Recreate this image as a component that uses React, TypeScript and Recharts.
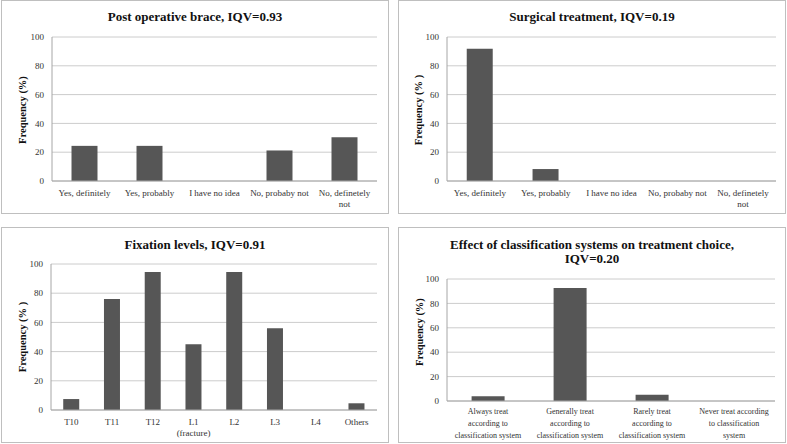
import React from 'react';
import { BarChart, Bar, XAxis, YAxis, CartesianGrid } from 'recharts';

const answerCategories = ['Yes, definitely', 'Yes, probably', 'I have no idea', 'No, probaby not', 'No, definetely\nnot'];
const braceValues = [24.4, 24.4, 0, 21.2, 30.4];
const surgicalValues = [91.9, 8.3, 0, 0, 0];

const fixationCategories = ['T10', 'T11', 'T12', 'L1\n(fracture)', 'L2', 'L3', 'L4', 'Others'];
const fixationValues = [7.5, 76, 94.5, 45, 94.5, 56, 0, 4.6];

const classificationCategories = [
  'Always treat\naccording to\nclassification system',
  'Generally treat\naccording to\nclassification system',
  'Rarely treat\naccording to\nclassification system',
  'Never treat according\nto classification\nsystem',
];
const classificationValues = [3.8, 92.6, 5.2, 0];

const yTicks = [0, 20, 40, 60, 80, 100];

const FONT = '"Liberation Serif", "Times New Roman", serif';
const BAR = '#565656';

type Box = { x: number; y: number; w: number; h: number };
type Plot = { l: number; r: number; t: number; b: number };

const toRows = (cats: string[], vals: number[]) => cats.map((name, i) => ({ name, value: vals[i] }));

function makeTick(fontSize: number, firstDy: number, lineGap: number) {
  return (props: any) => {
    const { x, y, payload } = props;
    const lines = String(payload.value).split('\n');
    return (
      <text x={x} y={y} textAnchor="middle" fontSize={fontSize} fontFamily={FONT} fill="#333">
        {lines.map((line, i) => (
          <tspan key={i} x={x} dy={i === 0 ? firstDy : lineGap}>
            {line}
          </tspan>
        ))}
      </text>
    );
  };
}

function Panel(props: {
  box: Box;
  plot: Plot;
  title: string[];
  titleY: number;
  yLabel: string;
  yLabelPos: [number, number];
  data: { name: string; value: number }[];
  tickFont: number;
  tickDy: number;
  tickGap: number;
}) {
  const { box, plot, title, titleY, yLabel, yLabelPos, data } = props;
  const cl = box.x + 1;
  const ct = box.y + 1;
  const cw = box.w - 2;
  const ch = box.h - 2;
  const titleLh = 14;
  return (
    <>
      <div
        style={{
          position: 'absolute',
          left: box.x,
          top: box.y,
          width: box.w,
          height: box.h,
          boxSizing: 'border-box',
          border: '1px solid #bfbfbf',
        }}
      />
      <div style={{ position: 'absolute', left: cl, top: ct }}>
        <BarChart
          width={cw}
          height={ch}
          data={data}
          margin={{ top: plot.t - ct, right: cl + cw - plot.r, left: 0, bottom: 0 }}
          barCategoryGap="30%"
        >
          <CartesianGrid vertical={false} stroke="#cccccc" />
          <XAxis
            dataKey="name"
            interval={0}
            tickLine={false}
            tickSize={0}
            tickMargin={0}
            height={ct + ch - plot.b}
            axisLine={{ stroke: '#a6a6a6' }}
            tick={makeTick(props.tickFont, props.tickDy, props.tickGap)}
          />
          <YAxis
            width={plot.l - cl}
            domain={[0, 100]}
            ticks={yTicks}
            interval={0}
            tickLine={false}
            axisLine={{ stroke: '#a6a6a6' }}
            tick={{ fontSize: 9, fontFamily: FONT, fill: '#333' }}
          />
          <Bar dataKey="value" fill={BAR} isAnimationActive={false} />
        </BarChart>
      </div>
      <div
        style={{
          position: 'absolute',
          left: box.x,
          width: box.w,
          top: titleY - (title.length * titleLh) / 2,
          textAlign: 'center',
          fontFamily: FONT,
          fontWeight: 'bold',
          fontSize: 13,
          lineHeight: `${titleLh}px`,
          color: '#111',
        }}
      >
        {title.map((t, i) => (
          <div key={i}>{t}</div>
        ))}
      </div>
      <div
        style={{
          position: 'absolute',
          left: yLabelPos[0],
          top: yLabelPos[1],
          transform: 'translate(-50%, -50%) rotate(-90deg)',
          whiteSpace: 'nowrap',
          fontFamily: FONT,
          fontWeight: 'bold',
          fontSize: 10.5,
          color: '#111',
        }}
      >
        {yLabel}
      </div>
    </>
  );
}

export default function App() {
  return (
    <div style={{ position: 'absolute', left: 0, top: 0, width: 787, height: 444, background: '#fff' }}>
      <Panel
        box={{ x: 1, y: 0, w: 388, h: 214 }}
        plot={{ l: 52, r: 377, t: 37, b: 181 }}
        title={['Post operative brace, IQV=0.93']}
        titleY={17}
        yLabel="Frequency (%)"
        yLabelPos={[22, 110]}
        data={toRows(answerCategories, braceValues)}
        tickFont={9}
        tickDy={15}
        tickGap={10.5}
      />
      <Panel
        box={{ x: 398, y: 0, w: 388, h: 214 }}
        plot={{ l: 447, r: 776, t: 37, b: 181 }}
        title={['Surgical treatment, IQV=0.19']}
        titleY={17}
        yLabel="Frequency (% )"
        yLabelPos={[418, 110]}
        data={toRows(answerCategories, surgicalValues)}
        tickFont={9}
        tickDy={15}
        tickGap={10.5}
      />
      <Panel
        box={{ x: 1, y: 227, w: 388, h: 216 }}
        plot={{ l: 51, r: 377, t: 264, b: 410 }}
        title={['Fixation levels, IQV=0.91']}
        titleY={245}
        yLabel="Frequency (% )"
        yLabelPos={[22, 337]}
        data={toRows(fixationCategories, fixationValues)}
        tickFont={9}
        tickDy={15}
        tickGap={11}
      />
      <Panel
        box={{ x: 398, y: 227, w: 388, h: 216 }}
        plot={{ l: 447, r: 775, t: 279, b: 401 }}
        title={['Effect of classification systems on treatment choice,', 'IQV=0.20']}
        titleY={252}
        yLabel="Frequency (%)"
        yLabelPos={[419, 332]}
        data={toRows(classificationCategories, classificationValues)}
        tickFont={8}
        tickDy={13}
        tickGap={12}
      />
    </div>
  );
}
